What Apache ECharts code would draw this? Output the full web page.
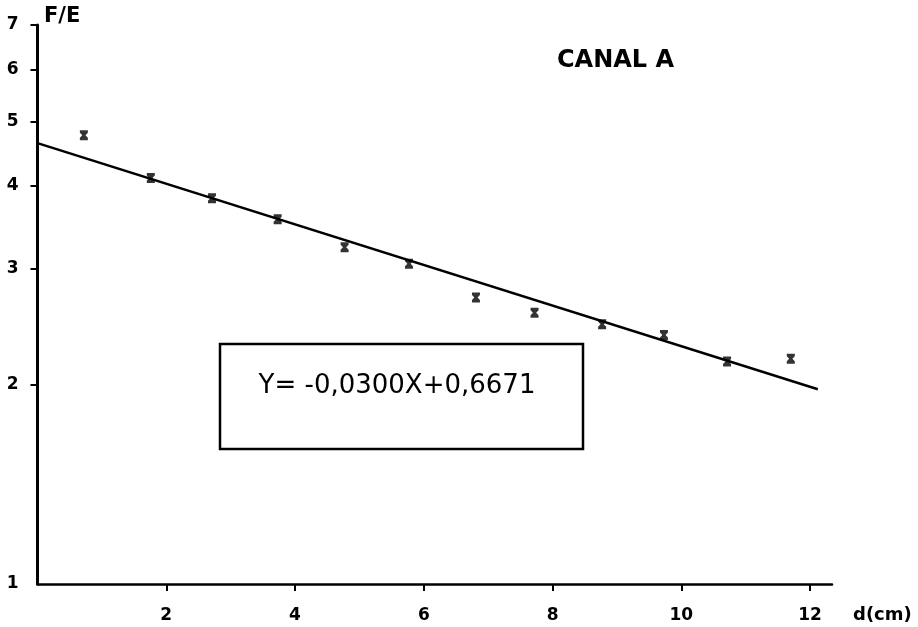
<!DOCTYPE html>
<html>
<head>
<meta charset="utf-8">
<script src="https://cdn.jsdelivr.net/npm/echarts@6/dist/echarts.min.js"></script>
<style>html,body{margin:0;padding:0;background:#fff;}#c{width:918px;height:627px;}</style>
</head>
<body>
<div id="c"></div>
<script>
// Measured points (distance d in cm, ratio F/E)
const dX = [0.72, 1.76, 2.71, 3.73, 4.77, 5.77, 6.81, 7.72, 8.77, 9.73, 10.71, 11.70];
const feY = [4.77, 4.11, 3.83, 3.56, 3.23, 3.05, 2.71, 2.57, 2.47, 2.38, 2.17, 2.19];
// Fitted line end points
const fitX = [0, 12.12];
const fitY = [4.64, 1.97];
// Tick labels
const xTicks = [2, 4, 6, 8, 10, 12];
const yTicks = [1, 2, 3, 4, 5, 6, 7];
const yTickMarks = [2, 3, 4, 5, 6, 7];
const title = 'CANAL A';
const equation = 'Y= -0,0300X+0,6671';
const yName = 'F/E';
const xName = 'd(cm)';

const chart = echarts.init(document.getElementById('c'), null, {renderer: 'canvas'});
const lblFont = {color: '#000', fontFamily: 'DejaVu Sans', fontWeight: 'bold', fontSize: 17};
chart.setOption({
  animation: false,
  backgroundColor: '#fff',
  grid: {left: 37.5, right: 86, top: 25, bottom: 43},
  xAxis: {
    type: 'value', min: 0, max: 12.34,
    axisLine: {show: true, lineStyle: {color: '#000', width: 2.5}},
    axisTick: {show: true, customValues: xTicks, length: 7, lineStyle: {color: '#000', width: 2}},
    axisLabel: Object.assign({customValues: xTicks, margin: 23}, lblFont),
    splitLine: {show: false}
  },
  yAxis: {
    type: 'log', logBase: 10, min: 1, max: 7,
    axisLine: {show: true, lineStyle: {color: '#000', width: 3}},
    axisTick: {show: true, customValues: yTickMarks, length: 7, lineStyle: {color: '#000', width: 2}},
    axisLabel: Object.assign({customValues: yTicks, margin: 19}, lblFont),
    splitLine: {show: false}
  },
  series: [
    {
      type: 'line',
      data: fitX.map((x, i) => [x, fitY[i]]),
      showSymbol: false, symbol: 'none',
      lineStyle: {color: '#000', width: 2.5},
      z: 2
    },
    {
      type: 'scatter',
      data: dX.map((x, i) => [x, feY[i]]),
      symbol: 'path://M0,0 L10,0 L10,2.5 L7,5 L10,7.5 L10,10 L0,10 L0,7.5 L3,5 L0,2.5 Z',
      symbolSize: [8, 10],
      itemStyle: {color: '#000'},
      z: 3
    }
  ],
  graphic: [
    {type: 'text', left: 44, top: 6, style: {text: yName, fill: '#000', font: 'bold 21px "DejaVu Sans"'}},
    {type: 'text', left: 557, top: 49, style: {text: title, fill: '#000', font: 'bold 24px "DejaVu Sans"'}},
    {type: 'text', left: 853, top: 606, style: {text: xName, fill: '#000', font: 'bold 18px "DejaVu Sans"'}},
    {type: 'rect', shape: {x: 220, y: 344, width: 363, height: 105}, style: {fill: 'none', stroke: '#000', lineWidth: 2.5}},
    {type: 'text', x: 397, y: 386, style: {text: equation, fill: '#000', font: '26px "DejaVu Sans"', align: 'center', verticalAlign: 'middle'}}
  ]
});
</script>
</body>
</html>
